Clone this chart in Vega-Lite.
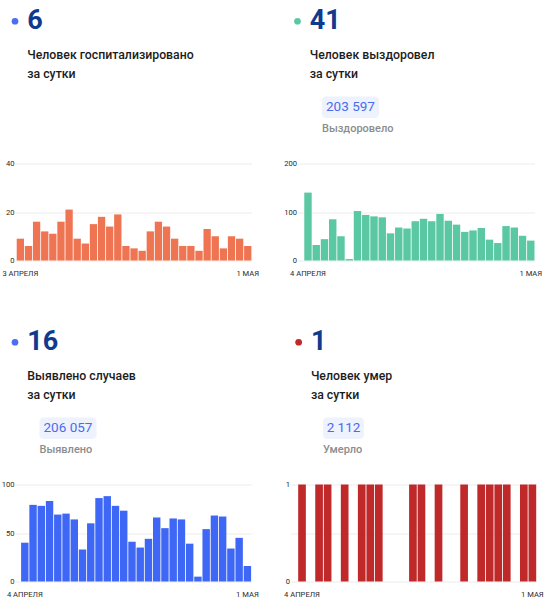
{
  "$schema": "https://vega.github.io/schema/vega-lite/v6.json",
  "background": "white",
  "padding": {"left": 1, "top": 6.5, "right": 3, "bottom": 5},
  "config": {
    "view": {"stroke": null},
    "font": "Roboto",
    "axis": {"labelFont": "Roboto", "labelFontSize": 7.6, "labelColor": "#2a2a2a", "title": null, "domain": false, "ticks": false}
  },
  "vconcat": [
    {
      "hconcat": [
        {
          "vconcat": [
            {
              "width": 81.5, "height": 129,
              "data": {"values": [
                {"role": "num", "text": "6"},
                {"role": "cap", "text": "Человек госпитализировано\nза сутки"}
              ]},
              "encoding": {"y": {"field": "role", "type": "nominal", "scale": {"type": "band", "domain": ["num", "g1", "cap", "g2", "box", "label"], "paddingInner": 0, "paddingOuter": 0}, "axis": null}},
              "layer": [
                {"transform": [{"filter": {"field": "role", "equal": "num"}}],
                 "mark": {"type": "point", "filled": true, "size": 45, "opacity": 1, "color": "#4b6ef5"},
                 "encoding": {"x": {"datum": "x0", "type": "nominal", "scale": {"type": "point", "padding": 0, "domain": ["x0","x1","x2","x3","x4","x5","x6","x7","x8","x9","x10","x11","x12","x13","x14","x15","x16","x17","x18","x19","x20"]}, "axis": null}}},
                {"transform": [{"filter": {"field": "role", "equal": "num"}}],
                 "mark": {"type": "text", "align": "left", "baseline": "middle", "fontSize": 27, "fontWeight": "bold", "color": "#103a8d"},
                 "encoding": {"x": {"datum": "x3", "type": "nominal"}, "text": {"field": "text"}}},
                {"transform": [{"filter": {"field": "role", "equal": "cap"}}],
                 "mark": {"type": "text", "align": "left", "baseline": "middle", "dy": -9.25, "fontSize": 12.3, "fontWeight": 500, "color": "#1c1c1c", "lineBreak": "\n", "lineHeight": 18.5},
                 "encoding": {"x": {"datum": "x3", "type": "nominal"}, "text": {"field": "text"}}}
              ]
            },
            {
              "width": 236.4, "height": 97,
              "data": {"values": [
                {"day": "3 АПРЕЛЯ", "value": 9}, {"day": "4 АПРЕЛЯ", "value": 6}, {"day": "5 АПРЕЛЯ", "value": 16}, {"day": "6 АПРЕЛЯ", "value": 12},
                {"day": "7 АПРЕЛЯ", "value": 11}, {"day": "8 АПРЕЛЯ", "value": 16}, {"day": "9 АПРЕЛЯ", "value": 21}, {"day": "10 АПРЕЛЯ", "value": 9},
                {"day": "11 АПРЕЛЯ", "value": 7}, {"day": "12 АПРЕЛЯ", "value": 15}, {"day": "13 АПРЕЛЯ", "value": 18}, {"day": "14 АПРЕЛЯ", "value": 14},
                {"day": "15 АПРЕЛЯ", "value": 19}, {"day": "16 АПРЕЛЯ", "value": 6}, {"day": "17 АПРЕЛЯ", "value": 5}, {"day": "18 АПРЕЛЯ", "value": 4},
                {"day": "19 АПРЕЛЯ", "value": 12}, {"day": "20 АПРЕЛЯ", "value": 16}, {"day": "21 АПРЕЛЯ", "value": 14}, {"day": "22 АПРЕЛЯ", "value": 9},
                {"day": "23 АПРЕЛЯ", "value": 6}, {"day": "24 АПРЕЛЯ", "value": 6}, {"day": "25 АПРЕЛЯ", "value": 4}, {"day": "26 АПРЕЛЯ", "value": 13},
                {"day": "27 АПРЕЛЯ", "value": 10}, {"day": "28 АПРЕЛЯ", "value": 5}, {"day": "29 АПРЕЛЯ", "value": 10}, {"day": "30 АПРЕЛЯ", "value": 9},
                {"day": "1 МАЯ", "value": 6}
              ]},
              "mark": {"type": "bar", "color": "#ef7452"},
              "encoding": {
                "x": {"field": "day", "type": "nominal", "sort": null, "scale": {"type": "band", "paddingInner": 0.1, "paddingOuter": 0.105, "align": 1},
                      "axis": {"values": ["3 АПРЕЛЯ", "1 МАЯ"], "labelAngle": 0, "labelPadding": 8.5, "grid": false}},
                "y": {"field": "value", "type": "quantitative", "scale": {"domain": [0, 40], "nice": false},
                      "axis": {"values": [0, 20, 40], "grid": true, "gridColor": "#ececec", "labelPadding": 1}}
              }
            }
          ]
        },
        {
          "vconcat": [
            {
              "width": 81.5, "height": 129,
              "data": {"values": [
                {"role": "num", "text": "41"},
                {"role": "cap", "text": "Человек выздоровел\nза сутки"},
                {"role": "box", "text": "203 597"},
                {"role": "label", "text": "Выздоровело"}
              ]},
              "encoding": {"y": {"field": "role", "type": "nominal", "scale": {"type": "band", "domain": ["num", "g1", "cap", "g2", "box", "label"], "paddingInner": 0, "paddingOuter": 0}, "axis": null}},
              "layer": [
                {"transform": [{"filter": {"field": "role", "equal": "num"}}],
                 "mark": {"type": "point", "filled": true, "size": 45, "opacity": 1, "color": "#5bc8a4"},
                 "encoding": {"x": {"datum": "x0", "type": "nominal", "scale": {"type": "point", "padding": 0, "domain": ["x0","x1","x2","x3","x4","x5","x6","x7","x8","x9","x10","x11","x12","x13","x14","x15","x16","x17","x18","x19","x20"]}, "axis": null}}},
                {"transform": [{"filter": {"field": "role", "equal": "num"}}],
                 "mark": {"type": "text", "align": "left", "baseline": "middle", "fontSize": 27, "fontWeight": "bold", "color": "#103a8d"},
                 "encoding": {"x": {"datum": "x3", "type": "nominal"}, "text": {"field": "text"}}},
                {"transform": [{"filter": {"field": "role", "equal": "cap"}}],
                 "mark": {"type": "text", "align": "left", "baseline": "middle", "dy": -9.25, "fontSize": 12.3, "fontWeight": 500, "color": "#1c1c1c", "lineBreak": "\n", "lineHeight": 18.5},
                 "encoding": {"x": {"datum": "x3", "type": "nominal"}, "text": {"field": "text"}}},
                {"transform": [{"filter": {"field": "role", "equal": "box"}}],
                 "mark": {"type": "rect", "color": "#eef2fd", "cornerRadius": 4},
                 "encoding": {"x": {"datum": "x6", "type": "nominal"}, "x2": {"datum": "x20"}}},
                {"transform": [{"filter": {"field": "role", "equal": "box"}}],
                 "mark": {"type": "text", "align": "center", "baseline": "middle", "fontSize": 13.5, "color": "#4a6cf0"},
                 "encoding": {"x": {"datum": "x13", "type": "nominal"}, "text": {"field": "text"}}},
                {"transform": [{"filter": {"field": "role", "equal": "label"}}],
                 "mark": {"type": "text", "align": "left", "baseline": "middle", "fontSize": 11, "fontWeight": 500, "color": "#8c8c8c"},
                 "encoding": {"x": {"datum": "x6", "type": "nominal"}, "text": {"field": "text"}}}
              ]
            },
            {
              "width": 237, "height": 97,
              "data": {"values": [
                {"day": "4 АПРЕЛЯ", "value": 140}, {"day": "5 АПРЕЛЯ", "value": 32}, {"day": "6 АПРЕЛЯ", "value": 44}, {"day": "7 АПРЕЛЯ", "value": 85},
                {"day": "8 АПРЕЛЯ", "value": 50}, {"day": "9 АПРЕЛЯ", "value": 3}, {"day": "10 АПРЕЛЯ", "value": 102}, {"day": "11 АПРЕЛЯ", "value": 94},
                {"day": "12 АПРЕЛЯ", "value": 91}, {"day": "13 АПРЕЛЯ", "value": 89}, {"day": "14 АПРЕЛЯ", "value": 56}, {"day": "15 АПРЕЛЯ", "value": 68},
                {"day": "16 АПРЕЛЯ", "value": 66}, {"day": "17 АПРЕЛЯ", "value": 81}, {"day": "18 АПРЕЛЯ", "value": 86}, {"day": "19 АПРЕЛЯ", "value": 81},
                {"day": "20 АПРЕЛЯ", "value": 96}, {"day": "21 АПРЕЛЯ", "value": 82}, {"day": "22 АПРЕЛЯ", "value": 74}, {"day": "23 АПРЕЛЯ", "value": 59},
                {"day": "24 АПРЕЛЯ", "value": 62}, {"day": "25 АПРЕЛЯ", "value": 67}, {"day": "26 АПРЕЛЯ", "value": 43}, {"day": "27 АПРЕЛЯ", "value": 36},
                {"day": "28 АПРЕЛЯ", "value": 71}, {"day": "29 АПРЕЛЯ", "value": 68}, {"day": "30 АПРЕЛЯ", "value": 51}, {"day": "1 МАЯ", "value": 41}
              ]},
              "mark": {"type": "bar", "color": "#5bc8a4"},
              "encoding": {
                "x": {"field": "day", "type": "nominal", "sort": null, "scale": {"type": "band", "paddingInner": 0.1, "paddingOuter": 0.41, "align": 1},
                      "axis": {"values": ["4 АПРЕЛЯ", "1 МАЯ"], "labelAngle": 0, "labelPadding": 8.5, "grid": false}},
                "y": {"field": "value", "type": "quantitative", "scale": {"domain": [0, 200], "nice": false},
                      "axis": {"values": [0, 100, 200], "grid": true, "gridColor": "#ececec", "labelPadding": 1}}
              }
            }
          ]
        }
      ],
      "spacing": 24.5
    },
    {
      "hconcat": [
        {
          "vconcat": [
            {
              "width": 81.5, "height": 129,
              "data": {"values": [
                {"role": "num", "text": "16"},
                {"role": "cap", "text": "Выявлено случаев\nза сутки"},
                {"role": "box", "text": "206 057"},
                {"role": "label", "text": "Выявлено"}
              ]},
              "encoding": {"y": {"field": "role", "type": "nominal", "scale": {"type": "band", "domain": ["num", "g1", "cap", "g2", "box", "label"], "paddingInner": 0, "paddingOuter": 0}, "axis": null}},
              "layer": [
                {"transform": [{"filter": {"field": "role", "equal": "num"}}],
                 "mark": {"type": "point", "filled": true, "size": 45, "opacity": 1, "color": "#4b6ef5"},
                 "encoding": {"x": {"datum": "x0", "type": "nominal", "scale": {"type": "point", "padding": 0, "domain": ["x0","x1","x2","x3","x4","x5","x6","x7","x8","x9","x10","x11","x12","x13","x14","x15","x16","x17","x18","x19","x20"]}, "axis": null}}},
                {"transform": [{"filter": {"field": "role", "equal": "num"}}],
                 "mark": {"type": "text", "align": "left", "baseline": "middle", "fontSize": 27, "fontWeight": "bold", "color": "#103a8d"},
                 "encoding": {"x": {"datum": "x3", "type": "nominal"}, "text": {"field": "text"}}},
                {"transform": [{"filter": {"field": "role", "equal": "cap"}}],
                 "mark": {"type": "text", "align": "left", "baseline": "middle", "dy": -9.25, "fontSize": 12.3, "fontWeight": 500, "color": "#1c1c1c", "lineBreak": "\n", "lineHeight": 18.5},
                 "encoding": {"x": {"datum": "x3", "type": "nominal"}, "text": {"field": "text"}}},
                {"transform": [{"filter": {"field": "role", "equal": "box"}}],
                 "mark": {"type": "rect", "color": "#eef2fd", "cornerRadius": 4},
                 "encoding": {"x": {"datum": "x6", "type": "nominal"}, "x2": {"datum": "x20"}}},
                {"transform": [{"filter": {"field": "role", "equal": "box"}}],
                 "mark": {"type": "text", "align": "center", "baseline": "middle", "fontSize": 13.5, "color": "#4a6cf0"},
                 "encoding": {"x": {"datum": "x13", "type": "nominal"}, "text": {"field": "text"}}},
                {"transform": [{"filter": {"field": "role", "equal": "label"}}],
                 "mark": {"type": "text", "align": "left", "baseline": "middle", "fontSize": 11, "fontWeight": 500, "color": "#8c8c8c"},
                 "encoding": {"x": {"datum": "x6", "type": "nominal"}, "text": {"field": "text"}}}
              ]
            },
            {
              "width": 236.1, "height": 97,
              "data": {"values": [
                {"day": "4 АПРЕЛЯ", "value": 40}, {"day": "5 АПРЕЛЯ", "value": 79}, {"day": "6 АПРЕЛЯ", "value": 78}, {"day": "7 АПРЕЛЯ", "value": 83},
                {"day": "8 АПРЕЛЯ", "value": 69}, {"day": "9 АПРЕЛЯ", "value": 70}, {"day": "10 АПРЕЛЯ", "value": 64}, {"day": "11 АПРЕЛЯ", "value": 33},
                {"day": "12 АПРЕЛЯ", "value": 60}, {"day": "13 АПРЕЛЯ", "value": 86}, {"day": "14 АПРЕЛЯ", "value": 88}, {"day": "15 АПРЕЛЯ", "value": 78},
                {"day": "16 АПРЕЛЯ", "value": 73}, {"day": "17 АПРЕЛЯ", "value": 41}, {"day": "18 АПРЕЛЯ", "value": 35}, {"day": "19 АПРЕЛЯ", "value": 44},
                {"day": "20 АПРЕЛЯ", "value": 66}, {"day": "21 АПРЕЛЯ", "value": 55}, {"day": "22 АПРЕЛЯ", "value": 65}, {"day": "23 АПРЕЛЯ", "value": 64},
                {"day": "24 АПРЕЛЯ", "value": 39}, {"day": "25 АПРЕЛЯ", "value": 5}, {"day": "26 АПРЕЛЯ", "value": 54}, {"day": "27 АПРЕЛЯ", "value": 68},
                {"day": "28 АПРЕЛЯ", "value": 67}, {"day": "29 АПРЕЛЯ", "value": 34}, {"day": "30 АПРЕЛЯ", "value": 45}, {"day": "1 МАЯ", "value": 16}
              ]},
              "mark": {"type": "bar", "color": "#3e67f6"},
              "encoding": {
                "x": {"field": "day", "type": "nominal", "sort": null, "scale": {"type": "band", "paddingInner": 0.1, "paddingOuter": 0.37, "align": 1},
                      "axis": {"values": ["4 АПРЕЛЯ", "1 МАЯ"], "labelAngle": 0, "labelPadding": 8.5, "grid": false}},
                "y": {"field": "value", "type": "quantitative", "scale": {"domain": [0, 100], "nice": false},
                      "axis": {"values": [0, 50, 100], "grid": true, "gridColor": "#ececec", "labelPadding": 1}}
              }
            }
          ]
        },
        {
          "vconcat": [
            {
              "width": 89.65, "height": 129,
              "data": {"values": [
                {"role": "num", "text": "1"},
                {"role": "cap", "text": "Человек умер\nза сутки"},
                {"role": "box", "text": "2 112"},
                {"role": "label", "text": "Умерло"}
              ]},
              "encoding": {"y": {"field": "role", "type": "nominal", "scale": {"type": "band", "domain": ["num", "g1", "cap", "g2", "box", "label"], "paddingInner": 0, "paddingOuter": 0}, "axis": null}},
              "layer": [
                {"transform": [{"filter": {"field": "role", "equal": "num"}}],
                 "mark": {"type": "point", "filled": true, "size": 45, "opacity": 1, "color": "#c0292a"},
                 "encoding": {"x": {"datum": "x2", "type": "nominal", "scale": {"type": "point", "padding": 0, "domain": ["x0","x1","x2","x3","x4","x5","x6","x7","x8","x9","x10","x11","x12","x13","x14","x15","x16","x17","x18","x19","x20","x21","x22"]}, "axis": null}}},
                {"transform": [{"filter": {"field": "role", "equal": "num"}}],
                 "mark": {"type": "text", "align": "left", "baseline": "middle", "fontSize": 27, "fontWeight": "bold", "color": "#103a8d"},
                 "encoding": {"x": {"datum": "x5", "type": "nominal"}, "text": {"field": "text"}}},
                {"transform": [{"filter": {"field": "role", "equal": "cap"}}],
                 "mark": {"type": "text", "align": "left", "baseline": "middle", "dy": -9.25, "fontSize": 12.3, "fontWeight": 500, "color": "#1c1c1c", "lineBreak": "\n", "lineHeight": 18.5},
                 "encoding": {"x": {"datum": "x5", "type": "nominal"}, "text": {"field": "text"}}},
                {"transform": [{"filter": {"field": "role", "equal": "box"}}],
                 "mark": {"type": "rect", "color": "#eef2fd", "cornerRadius": 4},
                 "encoding": {"x": {"datum": "x8", "type": "nominal"}, "x2": {"datum": "x18"}}},
                {"transform": [{"filter": {"field": "role", "equal": "box"}}],
                 "mark": {"type": "text", "align": "center", "baseline": "middle", "fontSize": 13.5, "color": "#4a6cf0"},
                 "encoding": {"x": {"datum": "x13", "type": "nominal"}, "text": {"field": "text"}}},
                {"transform": [{"filter": {"field": "role", "equal": "label"}}],
                 "mark": {"type": "text", "align": "left", "baseline": "middle", "fontSize": 11, "fontWeight": 500, "color": "#8c8c8c"},
                 "encoding": {"x": {"datum": "x8", "type": "nominal"}, "text": {"field": "text"}}}
              ]
            },
            {
              "width": 245.7, "height": 97,
              "data": {"values": [
                {"day": "4 АПРЕЛЯ", "value": 1}, {"day": "5 АПРЕЛЯ", "value": 0}, {"day": "6 АПРЕЛЯ", "value": 1}, {"day": "7 АПРЕЛЯ", "value": 1},
                {"day": "8 АПРЕЛЯ", "value": 0}, {"day": "9 АПРЕЛЯ", "value": 1}, {"day": "10 АПРЕЛЯ", "value": 0}, {"day": "11 АПРЕЛЯ", "value": 1},
                {"day": "12 АПРЕЛЯ", "value": 1}, {"day": "13 АПРЕЛЯ", "value": 1}, {"day": "14 АПРЕЛЯ", "value": 0}, {"day": "15 АПРЕЛЯ", "value": 0},
                {"day": "16 АПРЕЛЯ", "value": 0}, {"day": "17 АПРЕЛЯ", "value": 1}, {"day": "18 АПРЕЛЯ", "value": 1}, {"day": "19 АПРЕЛЯ", "value": 0},
                {"day": "20 АПРЕЛЯ", "value": 1}, {"day": "21 АПРЕЛЯ", "value": 0}, {"day": "22 АПРЕЛЯ", "value": 0}, {"day": "23 АПРЕЛЯ", "value": 1},
                {"day": "24 АПРЕЛЯ", "value": 0}, {"day": "25 АПРЕЛЯ", "value": 1}, {"day": "26 АПРЕЛЯ", "value": 1}, {"day": "27 АПРЕЛЯ", "value": 1},
                {"day": "28 АПРЕЛЯ", "value": 1}, {"day": "29 АПРЕЛЯ", "value": 0}, {"day": "30 АПРЕЛЯ", "value": 1}, {"day": "1 МАЯ", "value": 1}
              ]},
              "mark": {"type": "bar", "color": "#c0292a"},
              "encoding": {
                "x": {"field": "day", "type": "nominal", "sort": null, "scale": {"type": "band", "paddingInner": 0.1, "paddingOuter": 0.45, "align": 1},
                      "axis": {"values": ["4 АПРЕЛЯ", "1 МАЯ"], "labelAngle": 0, "labelPadding": 8.5, "grid": false}},
                "y": {"field": "value", "type": "quantitative", "scale": {"domain": [0, 1], "nice": false},
                      "axis": {"values": [0, 0.5, 1], "labelExpr": "datum.value == 0.5 ? '' : (datum.value == 1 ? '1' : '0')", "grid": true, "gridColor": "#ececec", "labelPadding": 1}}
              }
            }
          ]
        }
      ],
      "spacing": 24.5
    }
  ],
  "spacing": 50
}
